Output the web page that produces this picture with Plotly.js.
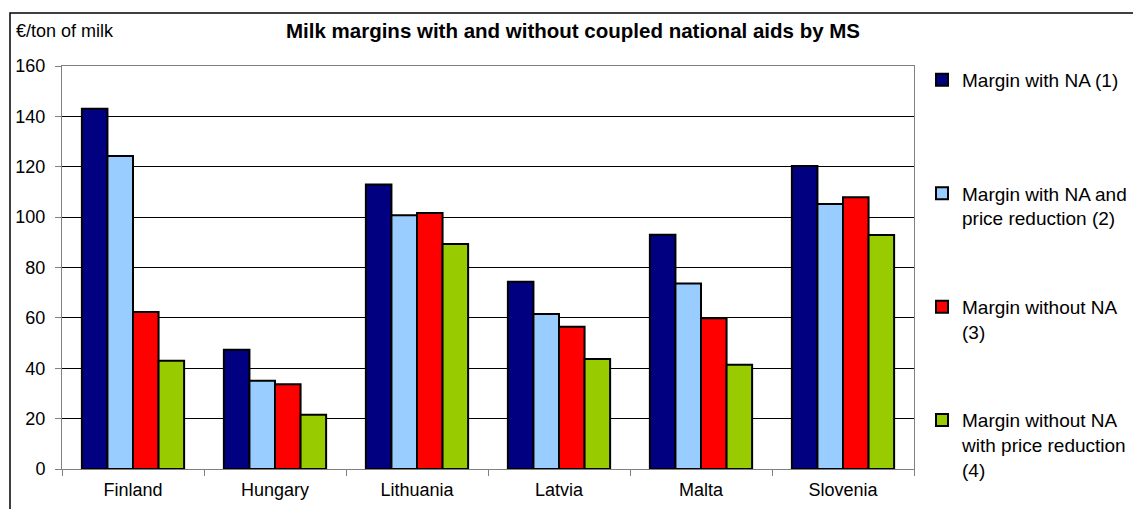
<!DOCTYPE html>
<html>
<head>
<meta charset="utf-8">
<script src="https://cdn.plot.ly/plotly-3.0.1.min.js"></script>
<style>html,body{margin:0;padding:0;background:#fff;}#chart{width:1133px;height:509px;}</style>
</head>
<body>
<div id="chart"></div>
<script>
const categories = ["Finland", "Hungary", "Lithuania", "Latvia", "Malta", "Slovenia"];
const seriesNames = [
  "Margin with NA (1)<br> ",
  "Margin with NA and<br>price reduction (2)",
  "Margin without NA<br>(3)",
  "Margin without NA<br>with price reduction<br>(4)"
];
const marginWithNA = [143, 47.3, 113, 74.3, 93, 120.3];
const marginWithNAPriceRed = [124.3, 35, 100.7, 61.5, 73.6, 105.2];
const marginWithoutNA = [62.3, 33.6, 101.6, 56.5, 59.9, 107.9];
const marginWithoutNAPriceRed = [43, 21.5, 89.3, 43.7, 41.4, 92.9];
const yTicks = [0, 20, 40, 60, 80, 100, 120, 140, 160];

const colors = ["#000080", "#99CCFF", "#FF0000", "#99CC00"];
const values = [marginWithNA, marginWithNAPriceRed, marginWithoutNA, marginWithoutNAPriceRed];

const FONT = "Liberation Sans, Arial, sans-serif";

const traces = values.map((v, i) => ({
  type: "bar",
  name: seriesNames[i],
  x: categories,
  y: v,
  legendgroup: "g" + i,
  marker: { color: colors[i], line: { color: "#000000", width: 2 } },
  hoverinfo: "x+y"
}));

const L = 62, R = 219, T = 66, B = 40;
const PW = 1133 - L - R, PH = 509 - T - B;
const px2x = p => (p - L) / PW;
const py2y = p => (509 - B - p) / PH;

const layout = {
  width: 1133,
  height: 509,
  margin: { l: L, r: R, t: T, b: B, pad: 0, autoexpand: false },
  paper_bgcolor: "#ffffff",
  plot_bgcolor: "#ffffff",
  font: { family: FONT, size: 18, color: "#000000" },
  barmode: "group",
  bargap: 0.28,
  bargroupgap: 0,
  title: {
    text: "<b>Milk margins with and without coupled national aids by MS</b>",
    font: { family: FONT, size: 20.5, color: "#000000" },
    x: 573 / 1133, xref: "container", xanchor: "center",
    y: 1 - 31 / 509, yref: "container", yanchor: "middle"
  },
  xaxis: {
    type: "category",
    tickson: "boundaries",
    ticks: "outside",
    ticklen: 6,
    tickcolor: "#808080",
    showline: true,
    linecolor: "#808080",
    linewidth: 1,
    mirror: true,
    showgrid: false,
    tickfont: { family: FONT, size: 18, color: "#000000" },
    ticklabelstandoff: 4
  },
  yaxis: {
    range: [0, 160],
    tickvals: yTicks,
    ticktext: yTicks.map(String),
    ticks: "outside",
    ticklen: 6,
    tickcolor: "#808080",
    showline: true,
    linecolor: "#808080",
    linewidth: 1,
    mirror: true,
    showgrid: true,
    gridcolor: "#000000",
    gridwidth: 1,
    zeroline: false,
    tickfont: { family: FONT, size: 18, color: "#000000" },
    ticklabelstandoff: 6
  },
  legend: {
    x: px2x(922), xanchor: "left",
    y: py2y(61), yanchor: "top",
    maxheight: 480,
    font: { family: FONT, size: 19, color: "#000000" },
    tracegroupgap: 61,
    traceorder: "grouped",
    valign: "top",
    bgcolor: "rgba(0,0,0,0)",
    borderwidth: 0
  },
  annotations: [{
    text: "€/ton of milk",
    xref: "paper", yref: "paper",
    x: px2x(14), xanchor: "left",
    y: py2y(31), yanchor: "middle",
    showarrow: false,
    font: { family: FONT, size: 18, color: "#000000" }
  }],
  shapes: [{
    type: "rect", xref: "paper", yref: "paper",
    x0: px2x(10), x1: px2x(1180), y0: py2y(13), y1: py2y(560),
    line: { color: "#000000", width: 1.5 },
    fillcolor: "rgba(0,0,0,0)"
  }]
};

Plotly.newPlot("chart", traces, layout, { displayModeBar: false, staticPlot: true });
</script>
</body>
</html>
